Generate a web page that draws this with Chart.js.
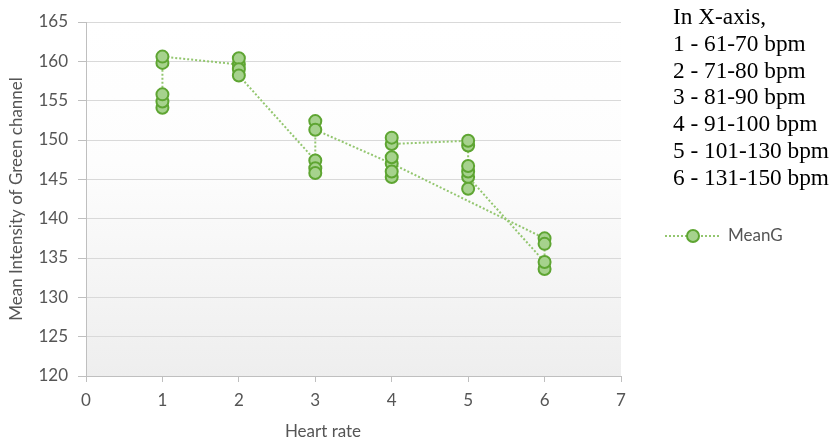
<!DOCTYPE html>
<html>
<head>
<meta charset="utf-8">
<script src="https://cdn.jsdelivr.net/npm/chart.js@4.4.1/dist/chart.umd.min.js"></script>
<style>
  body { margin: 0; background: #fff; }
  #wrap { position: relative; width: 836px; height: 445px; }
  #note { position: absolute; left: 673px; top: 3px; font-family: "Liberation Serif", serif;
          font-size: 23.3px; line-height: 26.8px; color: #000; white-space: pre; }
</style>
</head>
<body>
<div id="wrap">
  <canvas id="myChart" width="836" height="445"></canvas>
  <div id="note"></div>
</div>
<script>
// chart data
var xTitle = "Heart rate";
var yTitle = "Mean Intensity of Green channel";
var seriesName = "MeanG";
var noteLines = ["In X-axis,", "1 - 61-70 bpm", "2 - 71-80 bpm", "3 - 81-90 bpm",
                 "4 - 91-100 bpm", "5 - 101-130 bpm", "6 - 131-150 bpm"];
var heartRate = [1, 1, 1, 1, 1,
                 2, 2, 2, 2,
                 3, 3, 3, 3, 3,
                 4,
                 6, 6, 6, 6,
                 5, 5, 5, 5, 5, 5,
                 4, 4, 4, 4, 4];
var meanG = [154.1, 154.9, 155.8, 159.8, 160.6,
             159.6, 160.4, 159.0, 158.2,
             147.4, 146.4, 145.8, 152.4, 151.3,
             147.0,
             137.5, 136.8, 133.6, 134.5,
             145.3, 143.8, 146.0, 146.7, 149.3, 149.9,
             149.5, 150.3, 147.8, 145.3, 146.0];
var xTicks = { min: 0, max: 7, step: 1 };
var yTicks = { min: 120, max: 165, step: 5 };

document.getElementById("note").textContent = noteLines.join("\n");

var greyText = "#555555";
var lineColor = "#93c66f";
var pointFill = "#a6d28d";
var pointEdge = "#5ea532";
var labelFont = { family: "Lato", size: 17 };

var points = heartRate.map(function (x, i) { return { x: x, y: meanG[i] }; });

// plot area shading, drawn under the grid
var plotShade = {
  id: "plotShade",
  beforeDraw: function (chart) {
    var a = chart.chartArea, c = chart.ctx;
    var g = c.createLinearGradient(0, a.top, 0, a.bottom);
    g.addColorStop(0, "#ffffff");
    g.addColorStop(0.4, "#fdfdfd");
    g.addColorStop(1, "#eeeeee");
    c.save();
    c.fillStyle = g;
    c.fillRect(a.left, a.top, a.right - a.left, a.bottom - a.top);
    c.restore();
  }
};

// x title and the line+marker legend
var extras = {
  id: "extras",
  afterDraw: function (chart) {
    var c = chart.ctx;
    c.save();
    c.fillStyle = greyText;
    c.font = "17px Lato";
    c.textAlign = "center";
    c.textBaseline = "middle";
    c.fillText(xTitle, 323, 432);

    var ly = 236;
    c.strokeStyle = lineColor;
    c.lineWidth = 2;
    c.setLineDash([2, 2]);
    c.beginPath();
    c.moveTo(665, ly);
    c.lineTo(721, ly);
    c.stroke();
    c.setLineDash([]);
    c.beginPath();
    c.arc(693, ly, 6, 0, Math.PI * 2);
    c.fillStyle = pointFill;
    c.fill();
    c.strokeStyle = pointEdge;
    c.stroke();
    c.fillStyle = greyText;
    c.textAlign = "left";
    c.fillText(chart.data.datasets[0].label, 728, ly);
    c.restore();
  }
};

var ctx = document.getElementById("myChart").getContext("2d");
var chart = new Chart(ctx, {
  type: "scatter",
  data: {
    datasets: [{
      label: seriesName,
      data: points,
      showLine: true,
      borderColor: lineColor,
      borderWidth: 2,
      borderDash: [2, 2],
      pointRadius: 6,
      pointBackgroundColor: pointFill,
      pointBorderColor: pointEdge,
      pointBorderWidth: 2
    }]
  },
  options: {
    responsive: false,
    animation: false,
    layout: { padding: { left: 0, right: 215, top: 22, bottom: 0 } },
    plugins: { legend: { display: false }, tooltip: { enabled: false } },
    scales: {
      x: {
        type: "linear",
        min: xTicks.min, max: xTicks.max,
        ticks: { stepSize: xTicks.step, color: greyText, font: labelFont, padding: 8 },
        grid: { drawOnChartArea: false, tickLength: 6, tickColor: "#bfbfbf" },
        border: { color: "#bfbfbf" },
        afterFit: function (s) { s.height = 69; }
      },
      y: {
        min: yTicks.min, max: yTicks.max,
        ticks: { stepSize: yTicks.step, color: greyText, font: labelFont, padding: 10 },
        grid: { color: "#d9d9d9", tickLength: 8, tickColor: "#bfbfbf" },
        border: { color: "#bfbfbf" },
        title: { display: true, text: yTitle, color: greyText, font: labelFont,
                 padding: { top: 6, bottom: 0 } },
        afterFit: function (s) { s.width = 86; }
      }
    }
  },
  plugins: [plotShade, extras]
});
</script>
</body>
</html>
